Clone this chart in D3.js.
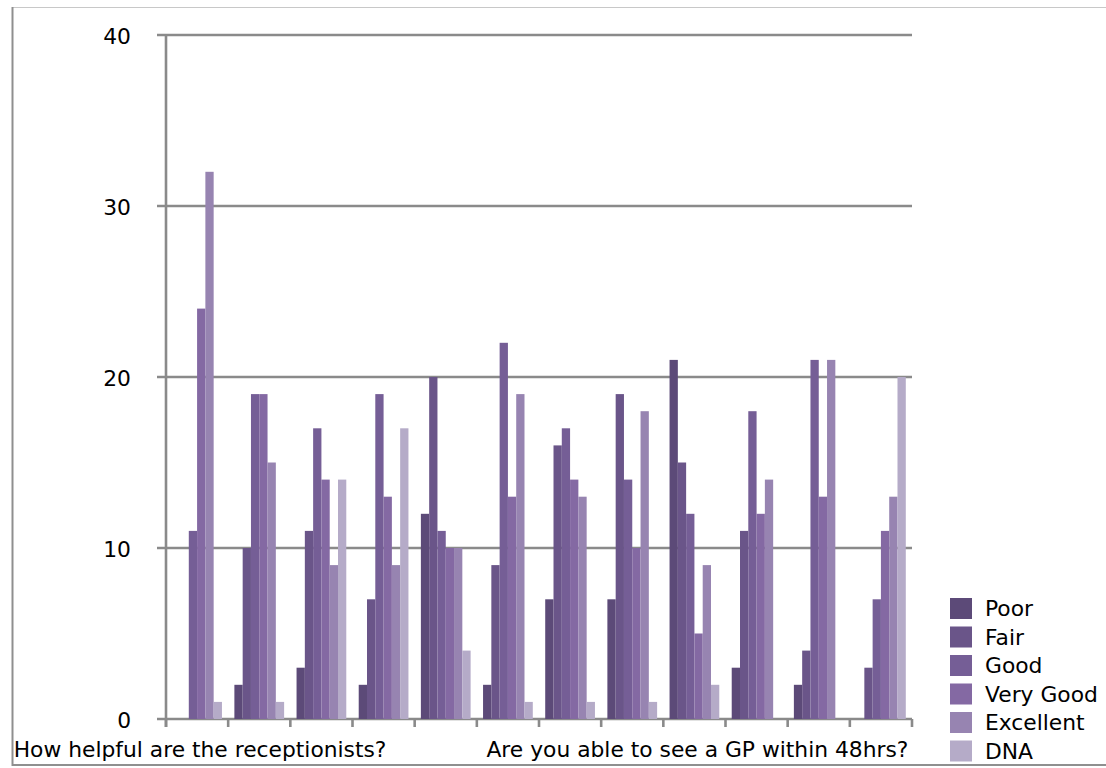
<!DOCTYPE html>
<html>
<head>
<meta charset="utf-8">
<script src="https://cdn.jsdelivr.net/npm/d3@7"></script>
<style>
  html, body { margin: 0; padding: 0; background: #fff; }
  svg { display: block; font-family: "DejaVu Sans", sans-serif; }
</style>
</head>
<body>
<svg id="chart" width="1106" height="768"></svg>
<script>
// ---- data ----
const categories = ["Q1","Q2","Q3","Q4","Q5","Q6","Q7","Q8","Q9","Q10","Q11","Q12"];
const categoryLabels = ["How helpful are the receptionists?","","","","","","","","Are you able to see a GP within 48hrs?","","",""];
const seriesNames = ["Poor","Fair","Good","Very Good","Excellent","DNA"];
const poor      = [0, 2, 3, 2, 12, 2, 7, 7, 21, 3, 2, 0];
const fair      = [0, 10, 11, 7, 20, 9, 16, 19, 15, 11, 4, 3];
const good      = [11, 19, 17, 19, 11, 22, 17, 14, 12, 18, 21, 7];
const veryGood  = [24, 19, 14, 13, 10, 13, 14, 10, 5, 12, 13, 11];
const excellent = [32, 15, 9, 9, 10, 19, 13, 18, 9, 14, 21, 13];
const dna       = [1, 1, 14, 17, 4, 1, 1, 1, 2, 0, 0, 20];
const yTicks = [0, 10, 20, 30, 40];
const colors = ["#5c4a78", "#6a5589", "#755e96", "#8469a3", "#9784b1", "#b5abc8"];

const seriesValues = [poor, fair, good, veryGood, excellent, dna];

(function () {
// ---- layout ----
const svg = d3.select("#chart");
const pLeft = 166, pRight = 912, pTop = 35, pBottom = 719;
const lineColor = "#8a8a8a";
const fs = 21.8;

const x = d3.scaleBand().domain(categories).range([pLeft, pRight]).paddingInner(0.2).paddingOuter(0.1);
const xs = d3.scaleBand().domain(seriesNames).range([0, x.bandwidth()]).padding(0);
const y = d3.scaleLinear().domain([0, 40]).range([pBottom, pTop]);

// outer frame
svg.append("line").attr("x1", 12).attr("x2", 1106).attr("y1", 7.5).attr("y2", 7.5).attr("stroke", "#c8c8c8").attr("stroke-width", 1);
svg.append("line").attr("x1", 12.5).attr("x2", 12.5).attr("y1", 7).attr("y2", 766).attr("stroke", "#8f8f8f").attr("stroke-width", 2);
svg.append("line").attr("x1", 12).attr("x2", 1106).attr("y1", 765).attr("y2", 765).attr("stroke", "#8f8f8f").attr("stroke-width", 2);

// gridlines
svg.append("g").selectAll("line").data(yTicks).join("line")
  .attr("x1", pLeft - 9).attr("x2", pRight)
  .attr("y1", d => y(d)).attr("y2", d => y(d))
  .attr("stroke", lineColor).attr("stroke-width", 2.6);

// y axis line
svg.append("line").attr("x1", pLeft).attr("x2", pLeft).attr("y1", pTop - 1).attr("y2", pBottom + 8)
  .attr("stroke", lineColor).attr("stroke-width", 2.6);

// y tick labels
svg.append("g").selectAll("text").data(yTicks).join("text")
  .attr("x", 131).attr("y", d => y(d) + 8.5)
  .attr("text-anchor", "end").attr("font-size", fs).attr("fill", "#000")
  .text(d => d);

// x tick marks at category boundaries
const step = x.step();
const boundaries = d3.range(categories.length + 1).map(i => pLeft + i * step);
svg.append("g").selectAll("line").data(boundaries).join("line")
  .attr("x1", d => d).attr("x2", d => d).attr("y1", pBottom).attr("y2", pBottom + 8)
  .attr("stroke", lineColor).attr("stroke-width", 2.6);

// bars
const groups = svg.append("g").selectAll("g").data(categories).join("g")
  .attr("transform", c => `translate(${x(c)},0)`);
groups.selectAll("rect")
  .data((c, ci) => seriesNames.map((s, si) => ({ s, si, v: seriesValues[si][ci] })))
  .join("rect")
  .attr("x", d => xs(d.s))
  .attr("width", xs.bandwidth())
  .attr("y", d => y(d.v))
  .attr("height", d => pBottom - y(d.v))
  .attr("fill", d => colors[d.si]);

// category labels
svg.append("g").selectAll("text").data(categories).join("text")
  .attr("x", c => x(c) + x.bandwidth() / 2 + 3)
  .attr("y", 757)
  .attr("text-anchor", "middle").attr("font-size", fs).attr("fill", "#000")
  .text((c, i) => categoryLabels[i]);

// legend
const legend = svg.append("g").selectAll("g").data(seriesNames).join("g")
  .attr("transform", (d, i) => `translate(950, ${598 + i * 28.5})`);
legend.append("rect").attr("width", 22).attr("height", 21).attr("fill", (d, i) => colors[i]);
legend.append("text").attr("x", 35).attr("y", 18)
  .attr("font-size", fs).attr("fill", "#000").text(d => d);
})();
</script>
</body>
</html>
